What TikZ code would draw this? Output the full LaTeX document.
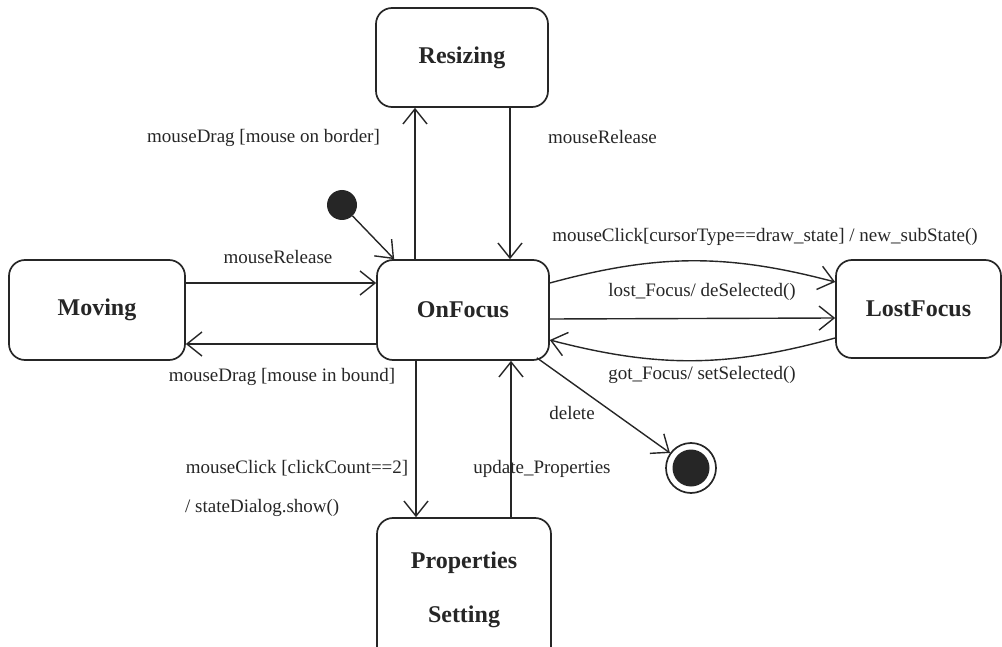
\documentclass[tikz,border=0pt]{standalone}
\usepackage{fontspec}
\setmainfont{Liberation Serif}
\usetikzlibrary{arrows.meta}
\definecolor{ink}{HTML}{262626}
\begin{document}
\begin{tikzpicture}[x=1pt,y=-1pt,
  statebox/.style={draw=ink, line width=1.7pt, rounded corners=16pt,
    font=\fontsize{24}{28}\selectfont\bfseries, text=ink, inner sep=0pt},
  lbl/.style={font=\fontsize{19}{22}\selectfont, text=ink, inner sep=0pt},
  trans/.style={draw=ink, line width=1.4pt,
    -{Straight Barb[length=15pt,width=24pt,line width=1.4pt]}},
]
\useasboundingbox (0,0) rectangle (1002,647);
\clip (0,0) rectangle (1002,647);

% states
\node[statebox, minimum width=172pt, minimum height=99pt] (resizing) at (462,57.5) {Resizing};
\node[statebox, minimum width=172pt, minimum height=100pt] (onfocus) at (463,310) {OnFocus};
\node[statebox, minimum width=176pt, minimum height=100pt] (moving) at (97,310) {Moving};
\node[statebox, minimum width=165pt, minimum height=98pt] (lostfocus) at (918.5,309) {LostFocus};
\node[statebox, minimum width=174pt, minimum height=144pt, align=center,
  font=\fontsize{24}{54}\selectfont\bfseries] (props) at (464,590) {Properties\\Setting};

% pseudo states
\node[circle, fill=ink, minimum size=30pt, inner sep=0pt] (init) at (342,205) {};
\node[circle, draw=ink, line width=1.7pt, minimum size=50pt, inner sep=0pt] (final) at (691,468) {};
\fill[ink] (final.center) circle (18.5pt);

% transitions
\draw[trans] ([xshift=-48pt]onfocus.north) -- ([xshift=-47pt]resizing.south);
\draw[trans] ([xshift=48pt]resizing.south) -- ([xshift=47pt]onfocus.north);
\draw[trans] (init) -- ([xshift=18pt]onfocus.north west);
\draw[trans] ([yshift=27pt]moving.east) -- ([yshift=27pt]onfocus.west);
\draw[trans] ([yshift=-34pt]onfocus.west) -- ([yshift=-34pt]moving.east);
\draw[trans] ([xshift=-47pt]onfocus.south) -- ([xshift=-48pt]props.north);
\draw[trans] ([xshift=47pt]props.north) -- ([xshift=48pt]onfocus.south);
\draw[trans] ([yshift=27pt]onfocus.east) to[bend left=15] ([yshift=27pt]lostfocus.west);
\draw[trans] ([yshift=-9pt]onfocus.east) -- ([yshift=-9pt]lostfocus.west);
\draw[trans] ([yshift=-29pt]lostfocus.west) to[bend left=15] ([yshift=-30pt]onfocus.east);
\draw[trans] ([shift={(-13pt,3pt)}]onfocus.south east) -- (final);

% transition labels
\node[lbl] (l1) at (263.5,138) {mouseDrag [mouse on border]};
\node[lbl, anchor=west] (l2) at (548,137) {mouseRelease};
\node[lbl] (l3) at (278,257) {mouseRelease};
\node[lbl] (l4) at (282,377) {mouseDrag [mouse in bound]};
\node[lbl] (l5) at (765,237) {mouseClick[cursorType==draw\_state] / new\_subState()};
\node[lbl] (l6) at (702,292) {lost\_Focus/ deSelected()};
\node[lbl] (l7) at (702,375) {got\_Focus/ setSelected()};
\node[lbl] (l8) at (572,413) {delete};
\node[lbl] (l9) at (542,469) {update\_Properties};
\node[lbl] (l10) at (297,468) {mouseClick [clickCount==2]};
\node[lbl, anchor=west] (l11) at (185,508) {/ stateDialog.show()};
\end{tikzpicture}
\end{document}
